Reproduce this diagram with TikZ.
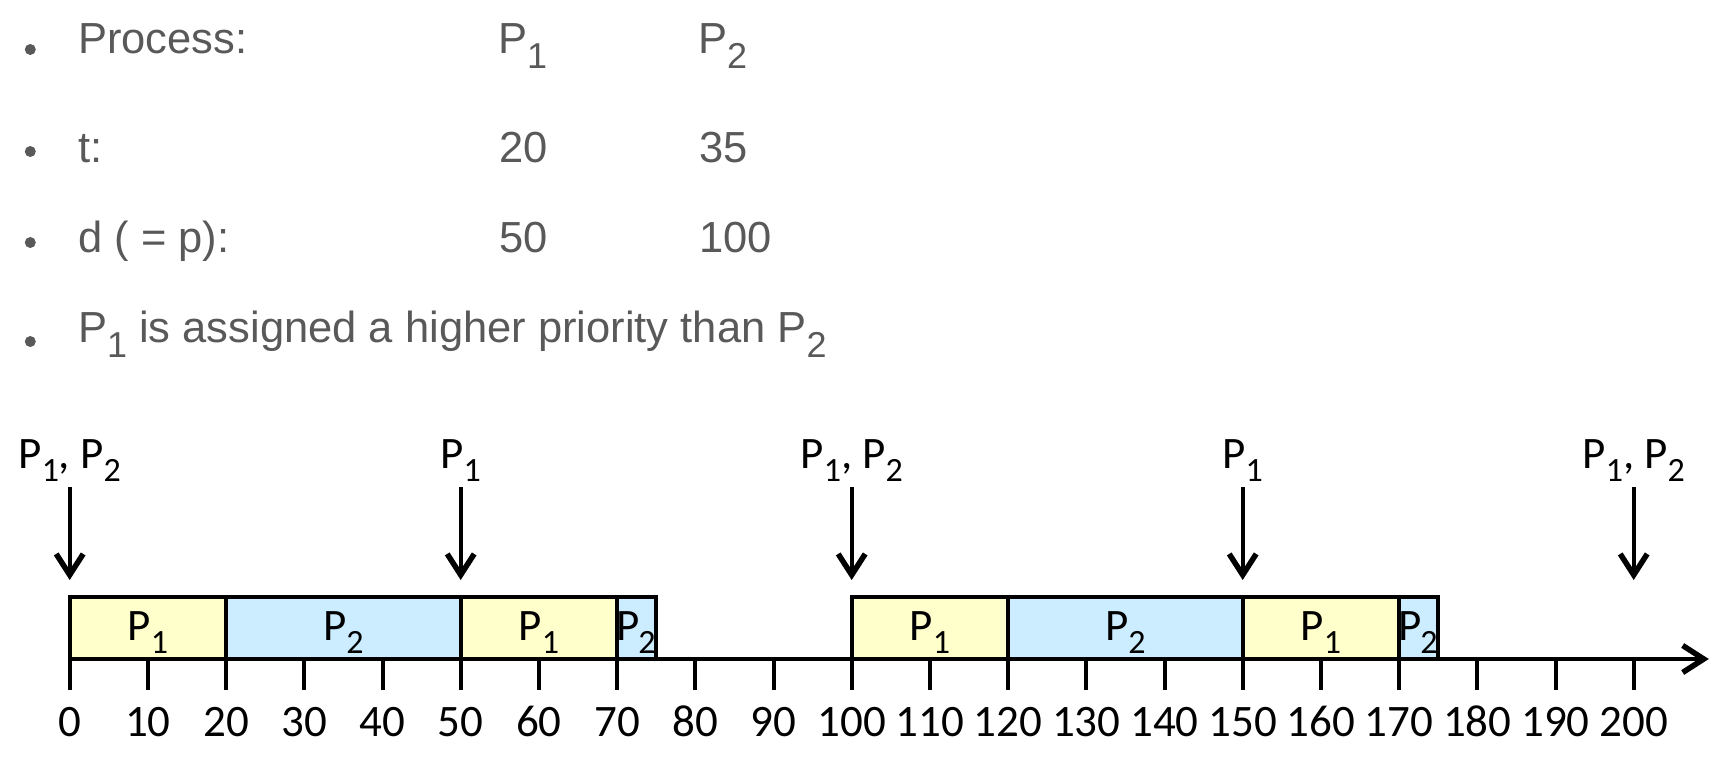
\documentclass[tikz,border=0pt]{standalone}
\usepackage{fontspec}
\setmainfont{Carlito}
\newfontfamily\arialf{Liberation Sans}
\usetikzlibrary{arrows.meta}
\definecolor{txtgray}{HTML}{595959}
\definecolor{yel}{HTML}{FFFFCC}
\definecolor{blu}{HTML}{CCECFF}
\newcommand\dsub[1]{\raisebox{-13pt}{\fontsize{34}{34}\selectfont #1}}
\newcommand\tsub[1]{\raisebox{-15pt}{\fontsize{36}{36}\selectfont #1}}
\begin{document}
\begin{tikzpicture}[x=1pt,y=-1pt,
  btext/.style={anchor=base west,inner sep=0pt,text=txtgray,font=\arialf\fontsize{43.5}{50}\selectfont},
  bdot/.style={circle,fill=txtgray,inner sep=0pt,minimum size=11pt},
  dlabel/.style={anchor=base,inner sep=0pt,font=\fontsize{45}{52}\selectfont},
  cellA/.style={draw=black,line width=4pt,fill=yel},
  cellB/.style={draw=black,line width=4pt,fill=blu},
  tickline/.style={line width=4pt},
  axisline/.style={line width=4pt,-{Straight Barb[length=21pt,width=27pt,line width=5.5pt]}},
  rel/.style={line width=4pt,-{Straight Barb[length=21pt,width=27pt,line width=5.5pt]}}]
\useasboundingbox (0,0) rectangle (1727,766);
% bullet list
\node[bdot] (b1) at (30.3,49.5) {};
\node[bdot] (b2) at (30.3,151.5) {};
\node[bdot] (b3) at (30.3,242.5) {};
\node[bdot] (b4) at (30.3,341.5) {};
\node[btext] (l1) at (78,53.5) {Process:};
\node[btext] (l2) at (78,162) {t:};
\node[btext] (l3) at (78,252.5) {d ( = p):};
\node[btext] (l4) at (78,342.5) {P\tsub{1} is assigned a higher priority than P\tsub{2}};
\node[btext] (p1h) at (498,53.5) {P\tsub{1}};
\node[btext] (p2h) at (698,53.5) {P\tsub{2}};
\node[btext] (p1t) at (499,162) {20};
\node[btext] (p2t) at (699,162) {35};
\node[btext] (p1d) at (499,252.5) {50};
\node[btext] (p2d) at (699,252.5) {100};
% timeline
\begin{scope}[xshift=69.7pt,x=7.82pt]
\draw[cellA] (0,597) rectangle (20,659);
\draw[cellB] (20,597) rectangle (50,659);
\draw[cellA] (50,597) rectangle (70,659);
\draw[cellB] (70,597) rectangle (75,659);
\draw[cellA] (100,597) rectangle (120,659);
\draw[cellB] (120,597) rectangle (150,659);
\draw[cellA] (150,597) rectangle (170,659);
\draw[cellB] (170,597) rectangle (175,659);
\node[dlabel] (c1) at (10,640) {P\dsub{1}};
\node[dlabel] (c2) at (35,640) {P\dsub{2}};
\node[dlabel] (c3) at (60,640) {P\dsub{1}};
\node[dlabel] (c4) at (72.4,640) {P\kern-1pt\dsub{2}};
\node[dlabel] (c5) at (110,640) {P\dsub{1}};
\node[dlabel] (c6) at (135,640) {P\dsub{2}};
\node[dlabel] (c7) at (160,640) {P\dsub{1}};
\node[dlabel] (c8) at (172.4,640) {P\kern-1pt\dsub{2}};
\coordinate (ax0) at (0,659);
\coordinate (ax1) at (209.6,659);
\draw[axisline] (ax0) -- (ax1);
\foreach \i in {0,10,...,200} {
  \coordinate (tk\i) at (\i,659);
  \coordinate (tb\i) at (\i,690);
  \draw[tickline] (tk\i) -- (tb\i);
  \node[dlabel] (n\i) at (\i,736) {\i};
}
\foreach \t/\lab in {0/{P\dsub{1}, P\dsub{2}},50/{P\dsub{1}},100/{P\dsub{1}, P\dsub{2}},150/{P\dsub{1}},200/{P\dsub{1}, P\dsub{2}}} {
  \node[dlabel] (r\t) at (\t,468) {\lab};
  \coordinate (ra\t) at (\t,487);
  \coordinate (rb\t) at (\t,580);
  \draw[rel] (ra\t) -- (rb\t);
}
\end{scope}
\end{tikzpicture}
\end{document}
